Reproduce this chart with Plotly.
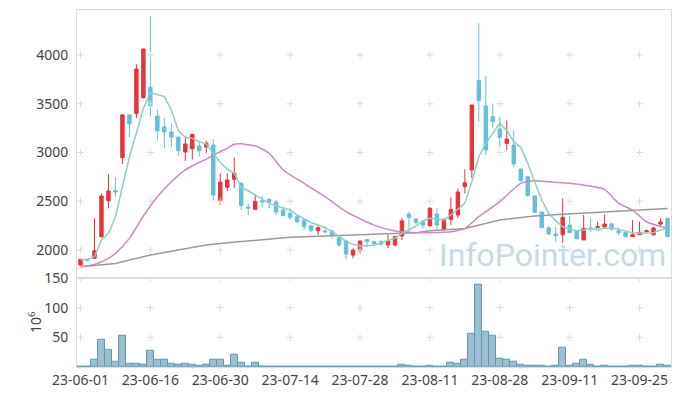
import pandas as pd
import plotly.graph_objects as go
from plotly.subplots import make_subplots

# ---- categories (KRX trading days) ----
holidays = ["2023-06-06", "2023-08-15", "2023-09-28", "2023-09-29", "2023-10-02", "2023-10-03"]
dates = [d.strftime("%Y-%m-%d") for d in pd.bdate_range("2023-06-01", "2023-10-05")
         if d.strftime("%Y-%m-%d") not in holidays]

tick_labels = ["23-06-01", "23-06-16", "23-06-30", "23-07-14", "23-07-28",
               "23-08-11", "23-08-28", "23-09-11", "23-09-25"]

# ---- OHLC ----
open_ = [1846, 1900, 1915, 2136, 2506, 2610, 2947, 3385, 3402, 3562,
         3669, 3374, 3262, 3210, 3159, 3005, 3039, 3067, 3056, 3077,
         2506, 2643, 2725, 2684, 2440, 2417, 2506, 2520, 2492, 2410,
         2376, 2342, 2308, 2249, 2198, 2195, 2195, 2127, 2092, 1949,
         1993, 2109, 2085, 2085, 2051, 2051, 2144, 2369, 2318, 2290,
         2249, 2369, 2212, 2315, 2359, 2649, 2821, 3737, 3477, 3367,
         3241, 3094, 3077, 2831, 2752, 2554, 2390, 2226, 2164, 2157,
         2256, 2198, 2103, 2225, 2229, 2236, 2267, 2195, 2181, 2137,
         2157, 2188, 2157, 2267, 2325]
high = [1910, 1910, 2325, 2581, 2780, 2746, 3390, 3390, 3904, 4065,
        4400, 3443, 3351, 3300, 3160, 3162, 3190, 3121, 3121, 3135,
        2787, 2787, 2951, 2700, 2479, 2574, 2554, 2530, 2513, 2444,
        2428, 2342, 2325, 2249, 2267, 2239, 2205, 2137, 2103, 2017,
        2100, 2109, 2095, 2100, 2161, 2150, 2325, 2393, 2330, 2308,
        2440, 2428, 2325, 2540, 2633, 2827, 3490, 4325, 3784, 3504,
        3367, 3327, 3231, 2835, 2760, 2560, 2400, 2246, 2239, 2530,
        2349, 2205, 2359, 2325, 2290, 2366, 2280, 2233, 2190, 2308,
        2290, 2210, 2240, 2325, 2330]
low = [1840, 1890, 1910, 2130, 2427, 2547, 2882, 3156, 3351, 3555,
       3368, 3121, 3043, 3053, 2964, 2916, 2930, 2957, 2992, 2506,
       2465, 2605, 2633, 2410, 2359, 2410, 2438, 2427, 2359, 2352,
       2308, 2274, 2205, 2188, 2154, 2171, 2120, 2034, 1905, 1915,
       1960, 2034, 2044, 2044, 2017, 2040, 2103, 2188, 2260, 2222,
       2240, 2205, 2188, 2256, 2325, 2581, 2735, 3316, 2974, 3248,
       3053, 3026, 2854, 2700, 2550, 2380, 2225, 2154, 2085, 2075,
       2178, 2110, 2103, 2188, 2222, 2233, 2200, 2154, 2130, 2137,
       2154, 2180, 2150, 2239, 2137]
close = [1905, 1895, 1993, 2554, 2605, 2595, 3385, 3292, 3856, 4061,
         3477, 3223, 3210, 3159, 3018, 3087, 3187, 3018, 3094, 2564,
         2697, 2718, 2787, 2458, 2430, 2499, 2492, 2492, 2390, 2352,
         2335, 2291, 2239, 2198, 2229, 2188, 2154, 2051, 1959, 2000,
         2092, 2085, 2068, 2061, 2092, 2137, 2299, 2335, 2284, 2256,
         2428, 2256, 2315, 2417, 2595, 2690, 3487, 3532, 3026, 3316,
         3156, 3138, 2882, 2711, 2557, 2387, 2229, 2164, 2147, 2335,
         2178, 2116, 2222, 2218, 2239, 2267, 2212, 2178, 2137, 2157,
         2181, 2198, 2226, 2287, 2137]

# ---- volume (10^6) ----
volume = [0, 0, 12.6, 46.8, 28.5, 9.7, 51.9, 5.7, 5.7, 4.0,
          28.0, 11.4, 12.6, 5.7, 4.0, 5.7, 4.0, 2.3, 4.0, 11.4,
          12.6, 2.9, 21.0, 7.4, 0.6, 7.4, 0.5, 0.5, 0.5, 0.5,
          0.5, 0.5, 0.5, 0, 0, 0, 0, 0.5, 0.5, 0,
          0, 0, 0, 0, 0, 0, 4.0, 2.3, 0, 0,
          2.3, 0.6, 0.6, 7.4, 6.3, 11.4, 55.9, 138.0, 59.4, 52.5,
          14.3, 11.4, 9.7, 4.0, 2.3, 2.3, 2.3, 0.6, 2.3, 33.0,
          2.3, 5.7, 11.4, 4.0, 0.6, 2.3, 0.6, 0, 0.6, 2.3,
          2.3, 0.6, 0.6, 4.0, 2.3]

# ---- moving averages ----
ma5 = [1897, 1905, 1931, 2103, 2171, 2342, 2649, 2957, 3197, 3453,
       3614, 3590, 3573, 3436, 3224, 3156, 3145, 3111, 3087, 2992,
       2900, 2830, 2787, 2643, 2608, 2564, 2520, 2479, 2451, 2434,
       2410, 2359, 2318, 2280, 2256, 2229, 2188, 2137, 2092, 2058,
       2044, 2044, 2048, 2075, 2095, 2120, 2170, 2205, 2246, 2301,
       2325, 2318, 2308, 2359, 2417, 2479, 2700, 2957, 3094, 3197,
       3300, 3224, 3111, 3053, 2889, 2700, 2513, 2376, 2301, 2239,
       2212, 2198, 2205, 2222, 2205, 2222, 2229, 2212, 2195, 2178,
       2171, 2171, 2178, 2205, 2222]
ma20_idx = [0, 2, 4, 5, 7, 9, 11, 13, 15, 17, 18, 19, 20, 21, 22, 23, 24, 25, 27, 29,
            32, 35, 38, 42, 45, 48, 49, 53, 55, 57, 60, 63, 65, 67, 71, 75, 77, 79, 81, 84]
ma20 = [1829, 1853, 1915, 1966, 2120, 2349, 2547, 2700, 2821, 2900, 2930, 2974, 3009, 3043, 3085, 3090, 3080, 3070, 2992, 2821,
        2684, 2547, 2393, 2256, 2195, 2178, 2178, 2188, 2222, 2342, 2496, 2684, 2711, 2700, 2677, 2622, 2479, 2410, 2290, 2222]
malong_idx = [0, 5, 10, 15, 18, 21, 30, 39, 48, 50, 55, 60, 65, 69, 76, 84]
malong = [1829, 1863, 1949, 2017, 2051, 2075, 2130, 2154, 2178, 2198, 2222, 2308, 2349, 2366, 2393, 2427]

price_ticks = [2000, 2500, 3000, 3500, 4000]
vol_ticks = [50, 100, 150]

FONT = "Noto Sans"
tick_pos = dates[::10][:len(tick_labels)]

fig = make_subplots(rows=2, cols=1, shared_xaxes=True, vertical_spacing=0,
                    row_heights=[0.75, 0.25])

# grid crosses
for row, yt in ((1, price_ticks), (2, vol_ticks)):
    fig.add_trace(go.Scatter(
        x=[x for x in tick_pos for _ in yt], y=[y for _ in tick_pos for y in yt],
        mode="markers", hoverinfo="skip", showlegend=False,
        marker=dict(symbol="cross-thin", size=5, line=dict(color="#dcdcdc", width=1))),
        row=row, col=1)

fig.add_trace(go.Candlestick(
    x=dates, open=open_, high=high, low=low, close=close, whiskerwidth=0,
    increasing=dict(line=dict(color="#e8333a", width=1), fillcolor="#e8333a"),
    decreasing=dict(line=dict(color="#66bfd9", width=1), fillcolor="#66bfd9"),
    showlegend=False), row=1, col=1)

fig.add_trace(go.Scatter(x=[dates[i] for i in malong_idx], y=malong, mode="lines",
                         line=dict(color="#9a9a9a", width=1.5), showlegend=False), row=1, col=1)
fig.add_trace(go.Scatter(x=[dates[i] for i in ma20_idx], y=ma20, mode="lines",
                         line=dict(color="#c98bc2", width=1.5, shape="spline", smoothing=0.6),
                         showlegend=False), row=1, col=1)
fig.add_trace(go.Scatter(x=dates, y=ma5, mode="lines",
                         line=dict(color="#8fcfc3", width=1.5), showlegend=False), row=1, col=1)

fig.add_trace(go.Bar(x=dates, y=volume, width=1,
                     marker=dict(color="rgb(155,192,210)", line=dict(color="#6497b0", width=1)),
                     showlegend=False), row=2, col=1)

axis_common = dict(showgrid=False, zeroline=False, showline=True, mirror=True,
                   linecolor="#dddddd", linewidth=1, automargin=False,
                   tickfont=dict(family=FONT, size=14, color="#444444"))

fig.update_xaxes(type="category", categoryorder="array", categoryarray=dates,
                 range=[-0.5, len(dates) - 0.5], tickangle=0,
                 tickvals=tick_pos, ticktext=tick_labels, ticks="",
                 rangeslider=dict(visible=False), **axis_common)
fig.update_yaxes(ticks="", ticklabelstandoff=5, **axis_common)
fig.update_yaxes(range=[1716, 4461], tickvals=price_ticks, row=1, col=1)
fig.update_yaxes(range=[0, 150.5], tickvals=vol_ticks, row=2, col=1)

# volume unit label (10^6)
fig.add_annotation(text="10<sup>6</sup>", xref="paper", yref="paper", x=-0.0707, y=0.126,
                   xanchor="center", yanchor="middle", showarrow=False, textangle=-90,
                   font=dict(family=FONT, size=14, color="#444444"))

fig.add_annotation(text="InfoPointer.com", xref="paper", yref="paper", x=0.801, y=0.313,
                   xanchor="center", yanchor="middle", showarrow=False,
                   font=dict(family="Roboto", size=32, color="#c8dae4"))

fig.update_layout(width=680, height=396, margin=dict(l=77, r=9, t=10, b=29),
                  paper_bgcolor="white", plot_bgcolor="white", bargap=0, boxgap=0.3,
                  showlegend=False, font=dict(family=FONT))

fig.write_html("out.html", config={"displayModeBar": False},
               post_script="document.body.style.margin='0px';document.body.style.overflow='hidden';")
